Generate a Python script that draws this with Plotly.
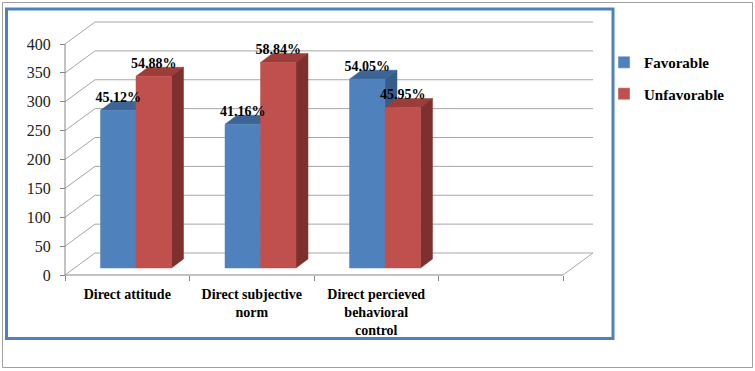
import plotly.graph_objects as go

# ---------------- data ----------------
categories = ["Direct attitude", "Direct subjective<br>norm",
              "Direct percieved<br>behavioral<br>control", ""]
favorable = [273, 249, 327]
unfavorable = [332, 356, 278]
fav_labels = ["45.12%", "41.16%", "54.05%"]
unfav_labels = ["54.88%", "58.84%", "45.95%"]
y_tick_vals = [0, 50, 100, 150, 200, 250, 300, 350, 400]
series_names = ["Favorable", "Unfavorable"]

# ---------------- styling / geometry ----------------
W, H = 755, 371
FRONT_L, FRONT_B = 65, 275          # px of front axis corner
PL, PR, PT, PB = 55, 600, 12, 285   # plot area px
X_PX = 124.5                         # px per category slot
Y_PX = 0.5775                        # px per value unit
x_range = [-0.5 - (FRONT_L - PL) / X_PX, -0.5 + (PR - FRONT_L) / X_PX]
y_range = [-(PB - FRONT_B) / Y_PX, (FRONT_B - PT) / Y_PX]

WALL_DX, WALL_DY = 30 / X_PX, 22 / Y_PX
BAR_W = 35.5 / X_PX
BAR_SHIFT = 8.75 / X_PX
BAR_LIFT = 7 / Y_PX
BAR_DX, BAR_DY = 12 / X_PX, 9 / Y_PX
LABEL_GAP = 2.5 / Y_PX
N_SLOTS = len(categories)
Y_MAX = y_tick_vals[-1]

FRONT = ["#4F81BD", "#C0504D"]
TOP = ["#3C6595", "#9C3D3A"]
SIDE = ["#365C8A", "#7E302E"]
GRID = "#A6A6A6"
AXIS = "#868686"
SERIF = "Liberation Serif"

fig = go.Figure()


def poly(xs, ys, color):
    fig.add_trace(go.Scatter(
        x=xs + [xs[0]], y=ys + [ys[0]], mode="lines", fill="toself",
        fillcolor=color, line=dict(color=color, width=0.5),
        hoverinfo="skip", showlegend=False))


values = [favorable, unfavorable]
labels = [fav_labels, unfav_labels]
label_x, label_y, label_t = [], [], []
for i in range(len(favorable)):
    for s in range(2):
        x0 = i + BAR_SHIFT - BAR_W + s * BAR_W
        x1 = x0 + BAR_W
        b = BAR_LIFT
        t = BAR_LIFT + values[s][i]
        poly([x0, x1, x1 + BAR_DX, x0 + BAR_DX], [t, t, t + BAR_DY, t + BAR_DY], TOP[s])
        poly([x1, x1 + BAR_DX, x1 + BAR_DX, x1], [b, b + BAR_DY, t + BAR_DY, t], SIDE[s])
        poly([x0, x1, x1, x0], [b, b, t, t], FRONT[s])
        label_x.append((x0 + x1) / 2)
        label_y.append(t + BAR_DY + LABEL_GAP)
        label_t.append(labels[s][i])

fig.add_trace(go.Scatter(
    x=label_x, y=label_y, text=label_t, mode="text", textposition="middle center",
    textfont=dict(family=SERIF, size=14, color="#000000", weight="bold"),
    hoverinfo="skip", showlegend=False, cliponaxis=False))

for s in range(2):
    fig.add_trace(go.Bar(x=[None], y=[None], name=series_names[s],
                         marker_color=FRONT[s], legendgroup=series_names[s]))

# ---------------- walls, grid, axes lines ----------------
shapes = []
x_left = -0.5
x_right = -0.5 + N_SLOTS
for v in y_tick_vals:
    shapes.append(dict(type="line", xref="x", yref="y", layer="below",
                       x0=x_left + WALL_DX, x1=x_right + WALL_DX,
                       y0=v + WALL_DY, y1=v + WALL_DY, line=dict(color=GRID, width=1)))
    shapes.append(dict(type="line", xref="x", yref="y", layer="below",
                       x0=x_left, x1=x_left + WALL_DX,
                       y0=v, y1=v + WALL_DY, line=dict(color=GRID, width=1)))
shapes.append(dict(type="line", xref="x", yref="y", layer="below",
                   x0=x_right, x1=x_right + WALL_DX, y0=0, y1=WALL_DY,
                   line=dict(color=GRID, width=1)))
shapes.append(dict(type="line", xref="x", yref="y", layer="below",
                   x0=x_left, x1=x_right, y0=0, y1=0, line=dict(color=AXIS, width=1)))
shapes.append(dict(type="line", xref="x", yref="y", layer="below",
                   x0=x_left, x1=x_left, y0=0, y1=Y_MAX, line=dict(color=AXIS, width=1)))


def px_to_paper_x(px):
    return (px - PL) / (PR - PL)


def px_to_paper_y(py):
    return (PB - py) / (PB - PT)


shapes.append(dict(type="rect", xref="paper", yref="paper", layer="below",
                   x0=px_to_paper_x(2.5), x1=px_to_paper_x(752.5),
                   y0=px_to_paper_y(367.5), y1=px_to_paper_y(2.5),
                   line=dict(color="#A0A0A0", width=1)))
shapes.append(dict(type="rect", xref="paper", yref="paper", layer="below",
                   x0=px_to_paper_x(6.5), x1=px_to_paper_x(613),
                   y0=px_to_paper_y(338.5), y1=px_to_paper_y(9),
                   line=dict(color="#4F81BD", width=3)))

fig.update_layout(
    width=W, height=H,
    margin=dict(l=PL, r=W - PR, t=PT, b=H - PB, pad=0, autoexpand=False),
    paper_bgcolor="white", plot_bgcolor="white",
    font=dict(family=SERIF, color="#000000"),
    shapes=shapes,
    showlegend=True,
    legend=dict(xref="container", yref="container",
                x=604 / W, y=1 - 46 / H, xanchor="left", yanchor="top",
                font=dict(family=SERIF, size=15, color="#000000", weight="bold"),
                tracegroupgap=9, bgcolor="rgba(0,0,0,0)", itemclick=False),
    xaxis=dict(range=x_range, showgrid=False, zeroline=False, showline=False,
               anchor="free", position=(PB - FRONT_B) / (PB - PT),
               tickmode="array", tickvals=list(range(N_SLOTS)), ticktext=categories,
               ticks="", ticklabelstandoff=9, automargin=False,
               tickfont=dict(family=SERIF, size=14, color="#000000", weight="bold"),
               minor=dict(tickmode="array",
                          tickvals=[k - 0.5 for k in range(N_SLOTS + 1)],
                          ticks="outside", ticklen=5, tickcolor=AXIS, tickwidth=1),
               fixedrange=True),
    yaxis=dict(range=y_range, showgrid=False, zeroline=False, showline=False,
               anchor="free", position=(FRONT_L - PL) / (PR - PL), automargin=False,
               tickmode="array", tickvals=y_tick_vals,
               ticks="outside", ticklen=5, tickcolor=AXIS, ticklabelstandoff=6,
               tickfont=dict(family=SERIF, size=16, color="#222222"),
               fixedrange=True),
    bargap=0,
)

fig.write_html(
    "out.html", config={"displayModeBar": False},
    post_script=("document.body.style.margin='0';"
                 "document.body.style.overflow='hidden';"
                 "document.documentElement.style.overflow='hidden';"))
